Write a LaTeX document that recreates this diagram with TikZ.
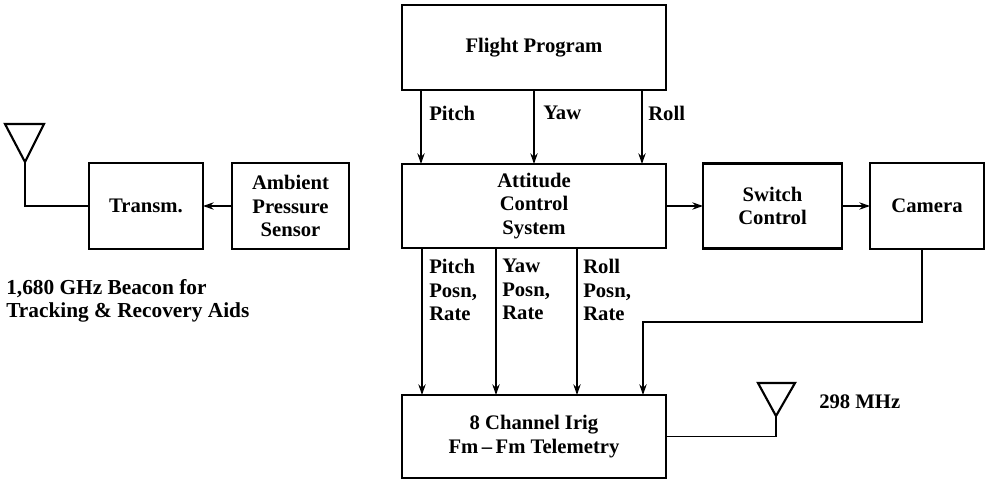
\documentclass[tikz,border=0pt]{standalone}
\usepackage{fontspec}
\setmainfont{Liberation Serif}
\usetikzlibrary{positioning,arrows.meta}
\begin{document}
\begin{tikzpicture}[x=.75pt, y=-.75pt,
  font=\fontsize{15.5}{17.6}\selectfont\bfseries,
  box/.style 2 args={draw, line width=1.6pt, align=center, inner sep=0pt, outer sep=0pt, minimum width=#1, minimum height=#2},
  arr/.style={-{Stealth[length=8pt,width=5.5pt]}, line width=1.1pt},
  wire/.style={line width=1.1pt},
  aerial/.style={draw, line width=1.6pt, line join=miter},
  lab/.style={align=left, inner sep=0pt, anchor=north west}]
\useasboundingbox (0,0) rectangle (992,481);
% --- centre column
\node[box={198pt}{63.75pt}] (flight) at (534,47.5) {Flight Program};
\node[box={198pt}{63pt}, below=55.5pt of flight] (acs) {Attitude\\Control\\System};
\node[box={198pt}{62.25pt}, below=110.25pt of acs] (tm) {8 Channel Irig\\Fm\,--\,Fm Telemetry};
% --- left and right of the attitude box
\node[box={87.75pt}{64.5pt}, left=39.75pt of acs] (amb) {Ambient\\Pressure\\Sensor};
\node[box={85.5pt}{64.5pt}, left=21.75pt of amb] (tx) {Transm.};
\node[box={104.25pt}{63.75pt}, right=27.75pt of acs] (sw) {Switch\\Control};
\node[box={85.5pt}{64.5pt}, right=21pt of sw] (cam) {Camera};
% --- aerials
\coordinate (tip1) at (25,162);
\coordinate (tip2) at (776,416);
\coordinate (join) at (643,322);
\draw[aerial] (5,124) -- (44,124) -- (tip1) -- cycle;
\draw[aerial] (758,383) -- (795,383) -- (tip2) -- cycle;
\draw[wire] (tip1) |- (tx.west);
\draw[wire] (tip2) |- (tm.east);
% --- arrows
\draw[arr] ([xshift=-84.75pt]flight.south) -- ([xshift=-84.75pt]flight.south |- acs.north);
\draw[arr] (flight) -- (acs);
\draw[arr] ([xshift=81pt]flight.south) -- ([xshift=81pt]flight.south |- acs.north);
\draw[arr] (amb) -- (tx);
\draw[arr] (acs) -- (sw);
\draw[arr] (sw) -- (cam);
\draw[arr] ([xshift=-84pt]acs.south) -- ([xshift=-84pt]acs.south |- tm.north);
\draw[arr] ([xshift=-28.5pt]acs.south) -- ([xshift=-28.5pt]acs.south |- tm.north);
\draw[arr] ([xshift=32.25pt]acs.south) -- ([xshift=32.25pt]acs.south |- tm.north);
\draw[arr] ([xshift=-3.75pt]cam.south) |- (join) -- (join |- tm.north);
% --- labels
\node[lab] (lpitch) at (429,106) {Pitch};
\node[lab] (lyaw) at (543,106) {Yaw};
\node[lab] (lroll) at (648,106) {Roll};
\node[lab] (lpitchb) at (429,259) {Pitch\\Posn,\\Rate};
\node[lab] (lyawb) at (502,259) {Yaw\\Posn,\\Rate};
\node[lab] (lrollb) at (583,259) {Roll\\Posn,\\Rate};
\node[lab, font=\fontsize{16}{17.6}\selectfont\bfseries] (beacon) at (6,279) {1,680 GHz Beacon for\\Tracking \& Recovery Aids};
\node[lab] (mhz) at (819,394) {298 MHz};
\end{tikzpicture}
\end{document}
